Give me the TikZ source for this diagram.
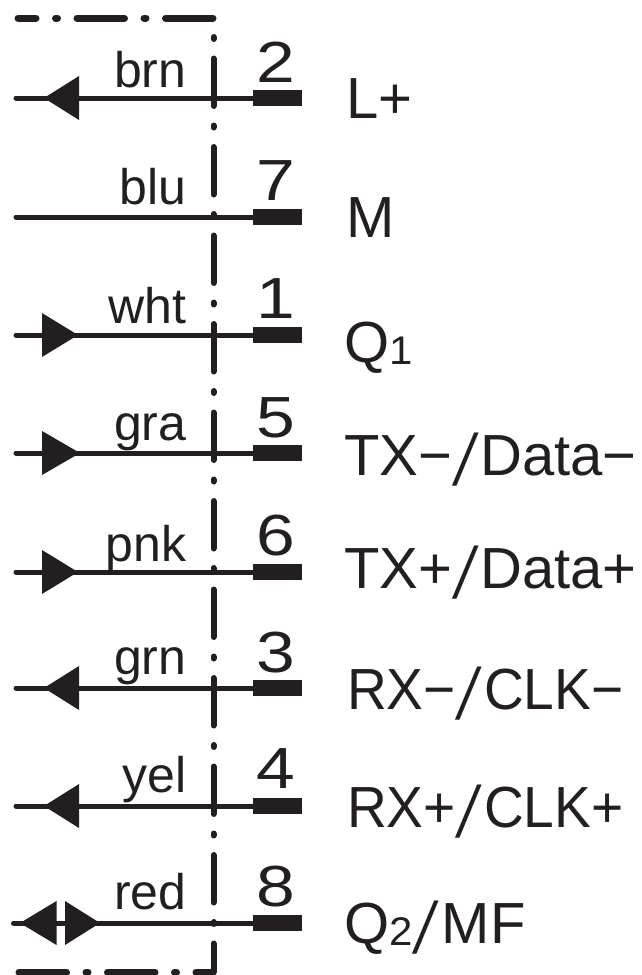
\documentclass[tikz,border=0pt]{standalone}
\usepackage{graphicx}
\usepackage{fontspec}
\setmainfont{Liberation Sans}
\newfontfamily\signalfont{Liberation Sans}
\newfontfamily\rxfont[FakeStretch=0.95]{Liberation Sans}
\newfontfamily\colourfont{Liberation Sans}
\newfontfamily\digitfont[FakeStretch=1.2]{Liberation Sans}
\newfontfamily\subfont[FakeStretch=1.05]{Liberation Sans}
\newfontfamily\slashfont[FakeSlant=0.25]{Liberation Sans}
\definecolor{ink}{HTML}{231F20}
\tikzset{
  x=1pt,y=-1pt,
  wire/.style={draw=ink,line width=5pt,line cap=round},
  pin/.style={fill=ink,minimum width=49pt,minimum height=16pt,inner sep=0pt,outer sep=0pt},
  colourlabel/.style={anchor=base east,inner sep=0pt,text=ink,font=\fontsize{50}{52}\selectfont\colourfont},
  pinnumber/.style={anchor=base,inner sep=0pt,text=ink,font=\fontsize{58}{60}\selectfont\digitfont},
  signal/.style={anchor=base west,inner sep=0pt,text=ink,font=\fontsize{58}{60}\selectfont\signalfont},
  rxsignal/.style={signal,font=\fontsize{58}{60}\selectfont\rxfont},
  boxline/.style={draw=ink,line cap=round,dash pattern=on 47.5pt off 19.5pt on 2pt off 19.5pt},
  headfill/.style={fill=ink,draw=none}
}
\newcommand{\subdigit}[1]{\raisebox{-2pt}{\fontsize{40}{42}\selectfont\subfont #1}}
\newcommand{\wideslash}{\raisebox{-10pt}{\scalebox{1}[1.25]{\slashfont /}}\kern 12pt}
\begin{document}
\begin{tikzpicture}
\useasboundingbox (0,0) rectangle (641,975);
% enclosure
\coordinate (topA) at (213,18);
\coordinate (topB) at (18,18);
\coordinate (vertA) at (213.5,37);
\coordinate (vertB) at (213.5,972);
\coordinate (botA) at (213,972);
\coordinate (botB) at (18,972);
\draw[boxline,line width=7pt] (topA) -- (topB);
\draw[boxline,line width=6pt,dash phase=67pt] (vertA) -- (vertB);
\draw[boxline,line width=7pt,dash phase=30.5pt] (botA) -- (botB);
% wires, pins, labels
\foreach \n/\xs/\y/\col/\ycol/\dig/\ydig in {2/16/98/brn/87/2/82,7/16/217/blu/204/7/200,1/16/335/wht/323/1/318,5/16/453/gra/440/5/437,6/16/572/pnk/561/6/555,3/16/688/grn/674/3/672,4/16/806/yel/792/4/788,8/13.5/923/red/909/8/906}{
  \coordinate (w\n) at (\xs,\y);
  \node[pin] (p\n) at (277.5,\y) {};
  \draw[wire] (w\n) -- (p\n);
  \node[colourlabel] (c\n) at (186.5,\ycol) {\col};
  \node[pinnumber] (d\n) at (276,\ydig) {\dig};
}
% arrowheads
\fill[headfill] (44,98) -- (79,76) -- (79,120) -- cycle;
\fill[headfill] (78,335) -- (42,313) -- (42,357) -- cycle;
\fill[headfill] (80,453) -- (42,431) -- (42,475) -- cycle;
\fill[headfill] (78,572) -- (42,550) -- (42,594) -- cycle;
\fill[headfill] (44,688) -- (79,666) -- (79,710) -- cycle;
\fill[headfill] (44,806) -- (79,784) -- (79,828) -- cycle;
\fill[headfill] (20,923) -- (56.5,901) -- (56.5,945) -- cycle;
\fill[headfill] (100,923) -- (65,901) -- (65,945) -- cycle;
% signal names
\node[signal] (sL) at (346,118) {L+};
\node[signal] (sM) at (346,237) {M};
\node[signal] (sQa) at (344,362) {Q\subdigit{1}};
\node[signal] (sTXm) at (344,475) {TX−\wideslash Data−};
\node[signal] (sTXp) at (344,588) {TX+\wideslash Data+};
\node[rxsignal] (sRXm) at (347,709) {RX−\wideslash CLK−};
\node[rxsignal] (sRXp) at (347,827) {RX+\wideslash CLK+};
\node[signal] (sQb) at (344,943) {Q\subdigit{2}\wideslash\kern 1pt MF};
\end{tikzpicture}
\end{document}
